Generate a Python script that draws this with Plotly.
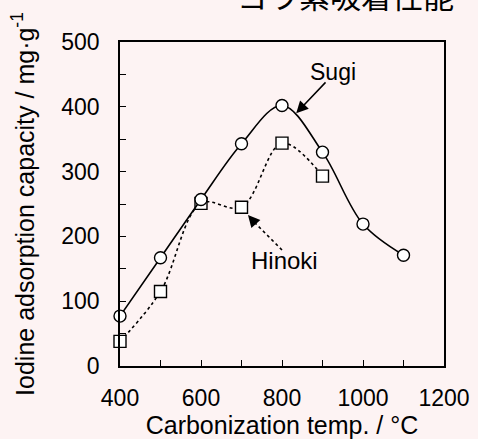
import plotly.graph_objects as go

temps_sugi = [400, 500, 600, 700, 800, 900, 1000, 1100]
sugi = [77, 167, 257, 343, 402, 330, 219, 171]
temps_hinoki = [400, 500, 600, 700, 800, 900]
hinoki = [38, 115, 251, 245, 344, 293]

x_ticks = [400, 600, 800, 1000, 1200]
y_ticks = [0, 100, 200, 300, 400, 500]

FONT = "Liberation Sans, Arial, sans-serif"
BG = "#fdf3f3"

fig = go.Figure()
fig.add_trace(go.Scatter(
    x=temps_hinoki, y=hinoki, mode="lines+markers", name="Hinoki",
    line=dict(color="black", width=1.6, dash="dot", shape="spline", smoothing=1),
    marker=dict(symbol="square", size=12, color="white", line=dict(color="black", width=1.4)),
    cliponaxis=False,
))
fig.add_trace(go.Scatter(
    x=temps_sugi, y=sugi, mode="lines+markers", name="Sugi",
    line=dict(color="black", width=1.6, shape="spline", smoothing=1),
    marker=dict(symbol="circle", size=12, color="white", line=dict(color="black", width=1.4)),
    cliponaxis=False,
))

# Sugi label + solid arrow
fig.add_annotation(x=925, y=453, text="Sugi", showarrow=False,
                   font=dict(family=FONT, size=23, color="black"))
fig.add_annotation(x=835, y=390, ax=911, ay=440, axref="x", ayref="y",
                   text="", showarrow=True, arrowhead=2, arrowsize=1.6,
                   arrowwidth=1.5, arrowcolor="black", standoff=0)

# Hinoki label + dotted arrow
fig.add_annotation(x=805, y=163, text="Hinoki", showarrow=False,
                   font=dict(family=FONT, size=24, color="black"))
fig.add_shape(type="line", xref="x", yref="y", x0=800, y0=179, x1=725, y1=226,
              line=dict(color="black", width=1.6, dash="dot"))
fig.add_annotation(x=716, y=233, ax=730, ay=223, axref="x", ayref="y",
                   text="", showarrow=True, arrowhead=2, arrowsize=1.6,
                   arrowwidth=1.5, arrowcolor="black", standoff=0)

# Title (cut off at top)
fig.add_annotation(xref="paper", yref="paper", x=(345 - 120) / 324, y=(366 + 6) / 324,
                   text="ヨウ素吸着性能", showarrow=False, xanchor="center", yanchor="middle",
                   font=dict(family="Noto Sans CJK JP", size=31, color="black"))

fig.update_layout(
    width=478, height=439,
    margin=dict(l=120, r=34, t=42, b=73, autoexpand=False),
    paper_bgcolor=BG, plot_bgcolor=BG,
    showlegend=False,
    font=dict(family=FONT, size=23, color="black"),
)
fig.update_xaxes(
    automargin=False,
    range=[400, 1200], tickvals=x_ticks, ticks="inside", ticklen=6, tickwidth=1.3,
    tickcolor="black", showline=True, linecolor="black", linewidth=1.5, mirror=True,
    showgrid=False, zeroline=False, ticklabelstandoff=11,
    minor=dict(dtick=100, ticks="inside", ticklen=6, tickwidth=1.3, tickcolor="black", showgrid=False),
    title=dict(text="Carbonization temp. / °C", font=dict(size=25), standoff=8),
    tickfont=dict(size=23),
)
fig.update_yaxes(
    automargin=False,
    range=[0, 500], tickvals=y_ticks, ticks="inside", ticklen=6, tickwidth=1.3,
    tickcolor="black", showline=True, linecolor="black", linewidth=1.5, mirror=True,
    showgrid=False, zeroline=False, ticklabelstandoff=14,
    minor=dict(dtick=50, ticks="inside", ticklen=6, tickwidth=1.3, tickcolor="black", showgrid=False),
    title=dict(text="Iodine adsorption capacity / mg·g<sup>-1</sup>", font=dict(size=25), standoff=20),
    tickfont=dict(size=23),
)

fig.write_html("out.html", config={"displayModeBar": False},
               post_script="document.body.style.margin='0';document.body.style.background='%s';" % BG)
